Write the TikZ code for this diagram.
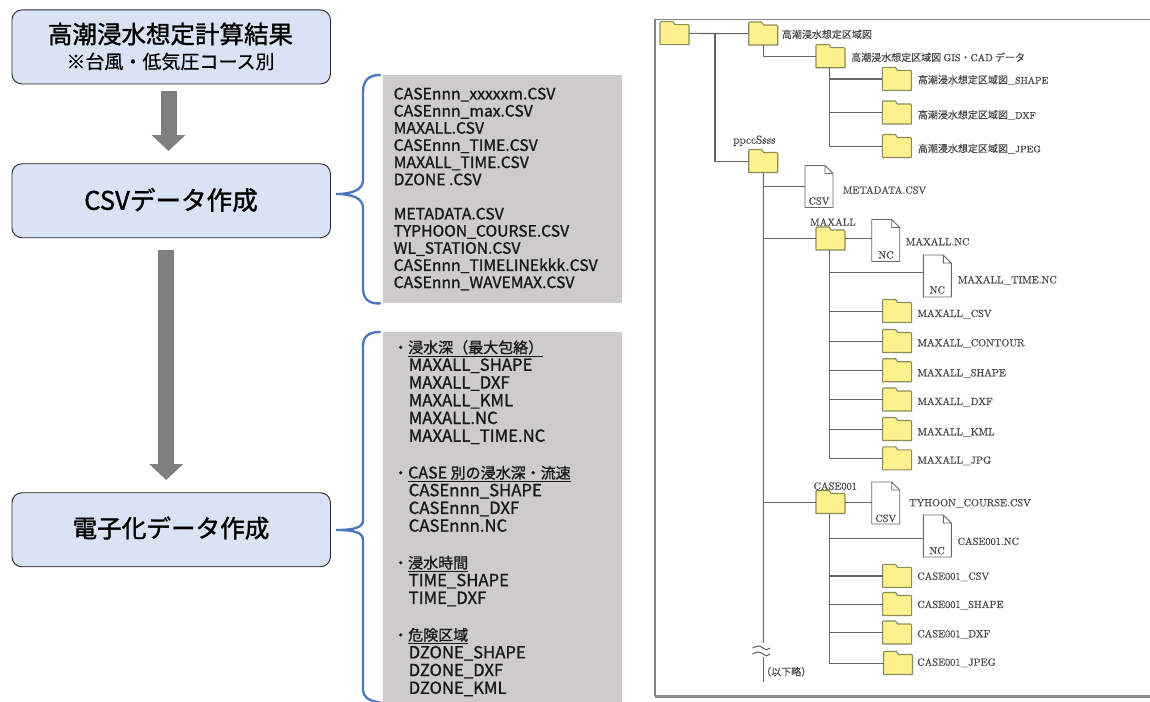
\documentclass[tikz,border=0pt]{standalone}
\usepackage{fontspec}
\usetikzlibrary{arrows.meta,calc}
\setmainfont{Latin Modern Roman}[FakeBold=0.7]
\newfontfamily\lmrb{Latin Modern Roman}[FakeBold=1.3]
\newfontfamily\jph{Noto Sans CJK JP}[FakeBold=1.3]
\newfontfamily\jp{Noto Sans CJK JP}[FakeBold=1.15]
\newfontfamily\jpt{Noto Sans CJK JP}[FakeBold=0.3]
\definecolor{boxfill}{HTML}{D9E3F3}
\definecolor{panel}{HTML}{CDCBCC}
\definecolor{bracec}{HTML}{4A76BE}
\definecolor{arrowc}{HTML}{7F7F7F}
\definecolor{folderf}{HTML}{FDF18E}
\definecolor{foldere}{HTML}{8C8C58}
\definecolor{linec}{HTML}{666666}
\definecolor{labc}{HTML}{484848}
\tikzset{
 flow/.style={draw=black!85,line width=0.9pt,fill=boxfill,rounded corners=10pt,minimum width=318.5pt,minimum height=74pt,inner sep=0,anchor=north west},
 flowtext/.style={inner sep=0,anchor=center,text=black},
 bigarrow/.style={draw=arrowc,line width=16pt,-{Triangle[length=16pt,width=33pt]}},
 panelbox/.style={fill=panel,inner sep=0,anchor=north west},
 paneltext/.style={inner sep=0,anchor=north west,align=left,text=black!90},
 bracel/.style={draw=bracec,line width=2.3pt,line cap=round},
 conn/.style={draw=linec,line width=1.1pt},
 fshape/.style={draw=foldere,fill=folderf,line width=1.1pt,line join=round},
 dshape/.style={draw=linec,fill=white,line width=0.9pt,line join=round},
 slot/.style={inner sep=0,anchor=north west,rectangle},
 lab/.style={inner sep=0,anchor=west,text=labc,font=\fontsize{10.3}{12}\selectfont},
 jlab/.style={lab,font=\fontsize{10}{12}\selectfont\jpt},
 dlab/.style={inner sep=0,anchor=center,text=labc,font=\fontsize{10.3}{12}\selectfont},
}
\newcommand{\fld}[3]{%
 \node[slot,minimum width=29pt,minimum height=23pt] (#1) at (#2,#3) {};
 \draw[fshape,shift={(#1.north west)}] (0,23)--(0,1)--(1,0)--(13,0)--(15,3)--(28,3)--(29,4)--(29,23)--cycle;}
\newcommand{\docu}[3]{%
 \node[slot,minimum width=28pt,minimum height=42pt] (#1) at (#2,#3) {};
 \draw[dshape,shift={(#1.north west)}] (0,0)--(20,0)--(28,8)--(28,42)--(0,42)--cycle (20,0)--(20,8)--(28,8);}
\newcommand{\jc}[1]{{\fontsize{15}{17.75}\selectfont #1}}
\newcommand{\hd}[1]{\underline{#1}}
\newcommand{\ind}{\hspace*{15.5pt}}
\newcommand{\lb}[1]{{\lmrb #1}}
\begin{document}
\begin{tikzpicture}[x=1pt,y=-1pt]
\useasboundingbox (0,0) rectangle (1150,701);
% left flow
\node[flow] (b1) at (11.5,9.5) {};
\node[flow] (b2) at (11.5,163.3) {};
\node[flow] (b3) at (11.5,492.3) {};
\node[flowtext,font=\fontsize{24.5}{28}\selectfont\jph] (t1) at (170.5,34) {高潮浸水想定計算結果};
\node[flowtext,font=\fontsize{19}{22}\selectfont\jpt] (t1b) at (170.5,61.5) {※台風・低気圧コース別};
\node[flowtext,font=\fontsize{25.6}{28}\selectfont\jph] (t2) at (171,200) {CSVデータ作成};
\node[flowtext,font=\fontsize{24.6}{28}\selectfont\jph] (t3) at (171,528) {電子化データ作成};
\draw[bigarrow] ([xshift=-2.7pt,yshift=-7pt]b1.south) -- ([xshift=-2.7pt,yshift=12.3pt]b2.north);
\draw[bigarrow] ([xshift=-5pt,yshift=-11.7pt]b2.south) -- ([xshift=-5pt,yshift=12.3pt]b3.north);
% panels
\node[panelbox,minimum width=239pt,minimum height=228pt] (p1) at (383,75) {};
\node[panelbox,minimum width=239pt,minimum height=370pt] (p2) at (383,332) {};
\node[paneltext,font=\fontsize{15.7}{17.15}\selectfont\jp] (p1t) at (393.5,87.5) {CASEnnn\_xxxxxm.CSV\\CASEnnn\_max.CSV\\MAXALL.CSV\\CASEnnn\_TIME.CSV\\MAXALL\_TIME.CSV\\DZONE .CSV\\\strut\\METADATA.CSV\\TYPHOON\_COURSE.CSV\\WL\_STATION.CSV\\CASEnnn\_TIMELINEkkk.CSV\\CASEnnn\_WAVEMAX.CSV};
\node[paneltext,font=\fontsize{16.7}{17.75}\selectfont\jp] (p2t) at (393,340) {\jc{・\hd{浸水深（最大包絡）}}\\
\ind MAXALL\_SHAPE\\\ind MAXALL\_DXF\\\ind MAXALL\_KML\\\ind MAXALL.NC\\\ind MAXALL\_TIME.NC\\\strut\\
\jc{・}\hd{\fontsize{16}{17.75}\selectfont CASE \jc{別の浸水深・流速}}\\\ind CASEnnn\_SHAPE\\\ind CASEnnn\_DXF\\\ind CASEnnn.NC\\\strut\\
\jc{・\hd{浸水時間}}\\\ind TIME\_SHAPE\\\ind TIME\_DXF\\\strut\\
\jc{・\hd{危険区域}}\\\ind DZONE\_SHAPE\\\ind DZONE\_DXF\\\ind DZONE\_KML};
% braces
\draw[bracel] ([xshift=-3pt]p1.north west) .. controls (369,75) and (363,80) .. (363,92) -- (363,180) .. controls (363,190) and (352,194) .. ([xshift=5pt]b2.east |- 0,194) .. controls (352,194) and (363,198) .. (363,208) -- (363,288) .. controls (363,299) and (369,304) .. ([xshift=-3pt]p1.south west);
\draw[bracel] ([xshift=-3pt]p2.north west) .. controls (369,332) and (363,336) .. (363,346) -- (363,520) .. controls (363,527) and (356,530) .. ([xshift=5pt]b3.east |- 0,530) .. controls (356,530) and (363,533) .. (363,540) -- (363,690) .. controls (363,697) and (369,701) .. ([xshift=-3pt]p2.south west);
% frame
\draw[draw=arrowc!95,line width=1.6pt] (1150,19.5) -- (655,19.5) -- (655,696);
\fill[arrowc!90!white] (655,694.5) rectangle (1150,698);
% connectors
\coordinate (j1) at (715,33.5);
\coordinate (trunkEnd) at (763.3,643);
\coordinate (trunkB) at (763.3,657);
\coordinate (trunkC) at (763.3,681.5);
% folders & docs
\fld{root}{660}{21.7}
\fld{f1}{748.7}{22}
\fld{f2}{816}{44.7}
\fld{f3}{882.4}{67.3}
\fld{f4}{882.4}{101}
\fld{f5}{882.4}{134.5}
\fld{f6}{748.7}{149.5}
\docu{dmeta}{805}{165.5}
\fld{mx}{816}{227}
\docu{dmn}{871.7}{219.5}
\docu{dmt}{923.3}{255}
\fld{mx1}{882.6}{299.5}
\fld{mx2}{882.6}{329.5}
\fld{mx3}{882.6}{358.7}
\fld{mx4}{882.6}{388}
\fld{mx5}{882.6}{417.5}
\fld{mx6}{882.6}{446.8}
\fld{cs}{816}{490.5}
\docu{dct}{871.7}{482}
\docu{dcn}{923.3}{515}
\fld{cs1}{882.6}{564.3}
\fld{cs2}{882.6}{592.5}
\fld{cs3}{882.6}{621}
\fld{cs4}{883.5}{651.5}
\draw[conn] (root.east) -- (f1.west);
\draw[conn] (j1) |- (f6.west);
\draw[conn] (f1.south) |- (f2.west);
\draw[conn] ([xshift=-1pt]f2.south) |- (f3.west);
\draw[conn] ([xshift=-1pt]f2.south) |- (f4.west);
\draw[conn] ([xshift=-1pt]f2.south) |- (f5.west);
\draw[conn] (f6.south) -- (trunkEnd);
\draw[conn] (trunkB) -- (trunkC);
\draw[conn] (f6.south) |- (dmeta.west);
\draw[conn] (f6.south) |- (mx.west);
\draw[conn] (f6.south) |- (cs.west);
\draw[conn] (mx.east) -- (dmn.west |- mx.east);
\draw[conn] ([xshift=-1pt]mx.south) |- ([yshift=4pt]dmt.west);
\foreach \n in {mx1,mx2,mx3,mx4,mx5,mx6} \draw[conn] ([xshift=-1pt]mx.south) |- (\n.west);
\draw[conn] (cs.east) -- (dct.west |- cs.east);
\draw[conn] ([xshift=-1pt]cs.south) |- ([yshift=-2pt]dcn.west);
\foreach \n in {cs1,cs2,cs3,cs4} \draw[conn] ([xshift=-1pt]cs.south) |- (\n.west);
\draw[conn] (752.5,648) .. controls (757,645.5) and (760,645.5) .. (763,648) .. controls (766,650.5) and (768,650) .. (770,648);
\draw[conn] (752.5,654) .. controls (757,651.5) and (760,651.5) .. (763,654) .. controls (766,656.5) and (768,656) .. (770,654);
% labels
\node[jlab] (l1) at (781.7,34.3) {高潮浸水想定区域図};
\node[jlab] (l2) at (851,57.3) {高潮浸水想定区域図 \lb{GIS}・\lb{CAD} データ};
\node[jlab] (l3) at (917.7,80) {高潮浸水想定区域図{\fontsize{9.4}{12}\selectfont\lb{\_SHAPE}}};
\node[jlab] (l4) at (917.7,115) {高潮浸水想定区域図{\fontsize{9.4}{12}\selectfont\lb{\_DXF}}};
\node[jlab] (l5) at (917.7,148.7) {高潮浸水想定区域図{\fontsize{9.4}{12}\selectfont\lb{\_JPEG}}};
\node[lab,font=\fontsize{11.5}{12}\selectfont] (l6) at (733,140.7) {ppccSsss};
\node[lab] (l7) at (842.7,190) {METADATA.CSV};
\node[dlab] (d1) at (819,201) {CSV};
\node[lab] (l8) at (810,222) {MAXALL};
\node[lab] (l9) at (905.7,241.7) {MAXALL.NC};
\node[dlab] (d2) at (886,255) {NC};
\node[lab] (l10) at (957.7,280.3) {MAXALL\_TIME.NC};
\node[dlab] (d3) at (937.3,290) {NC};
\node[lab] (l11) at (917.3,314) {MAXALL\_CSV};
\node[lab] (l12) at (917.3,343.3) {MAXALL\_CONTOUR};
\node[lab] (l13) at (917.3,373.3) {MAXALL\_SHAPE};
\node[lab] (l14) at (917.3,402) {MAXALL\_DXF};
\node[lab] (l15) at (917.3,432.3) {MAXALL\_KML};
\node[lab] (l16) at (917.3,460.7) {MAXALL\_JPG};
\node[lab] (l17) at (813.3,486) {CASE001};
\node[lab] (l18) at (909,503.3) {TYHOON\_COURSE.CSV};
\node[dlab] (d4) at (885.7,518.3) {CSV};
\node[lab] (l19) at (957.3,541.3) {CASE001.NC};
\node[dlab] (d5) at (937,550.7) {NC};
\node[lab] (l20) at (917,576.7) {CASE001\_CSV};
\node[lab] (l21) at (917,605) {CASE001\_SHAPE};
\node[lab] (l22) at (917,634.3) {CASE001\_DXF};
\node[lab] (l23) at (917,662.7) {CASE001\_JPEG};
\node[jlab,font=\fontsize{10}{12}\selectfont\jpt] (l24) at (761,671.7) {（以下略）};
\end{tikzpicture}
\end{document}
